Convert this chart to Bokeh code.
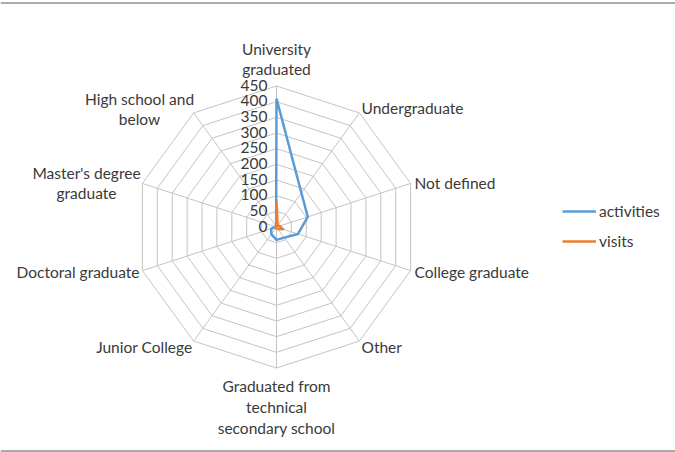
import math

from bokeh.core.properties import value
from bokeh.embed import file_html
from bokeh.models import ColumnDataSource, Legend, LegendItem, Range1d, Span
from bokeh.plotting import figure
from bokeh.resources import INLINE

# ---- data -----------------------------------------------------------------
categories = [
    "University graduated",
    "Undergraduate",
    "Not defined",
    "College graduate",
    "Other",
    "Graduated from technical secondary school",
    "Junior College",
    "Doctoral graduate",
    "Master's degree graduate",
    "High school and below",
]
activities = [410, 135, 105, 72, 42, 41, 28, 18, 3, 2]
visits = [82, 6, 10, 22, 8, 5, 3, 3, 2, 2]
ticks = [0, 50, 100, 150, 200, 250, 300, 350, 400, 450]
tick_labels = [str(t) for t in ticks]
series_names = ["activities", "visits"]

# ---- layout & style -------------------------------------------------------
W, H = 675, 452
CX, CY = 276.0, 226.5          # radar centre in page pixels
R_PX = 141.0                   # pixel radius of the outer ring
R_MAX = 450.0
PPU = R_PX / R_MAX             # pixels per value unit

BLUE = "#5b9bd5"
ORANGE = "#ed7d31"
GRID = "#c4c4c4"
TEXT = "#3a3a3a"
FONT = "Lato"
FONT_SIZE = "15.5px"

# label lines: (text, page x, page y, align)
label_lines = [
    [("University", 276, 48, "center"), ("graduated", 276, 68, "center")],
    [("Undergraduate", 361, 107, "left")],
    [("Not defined", 414, 182, "left")],
    [("College graduate", 414, 271, "left")],
    [("Other", 361, 346, "left")],
    [("Graduated from", 276, 385, "center"), ("technical", 276, 406, "center"),
     ("secondary school", 276, 427, "center")],
    [("Junior College", 192, 346, "right")],
    [("Doctoral graduate", 139, 271, "right")],
    [("Master's degree", 86, 172, "center"), ("graduate", 86, 192, "center")],
    [("High school and", 139, 98, "center"), ("below", 139, 118, "center")],
]


def to_data(px, py):
    return (px - CX) / PPU, (CY - py) / PPU


def polar(vals):
    n = len(vals)
    xs, ys = [], []
    for i, v in enumerate(vals):
        a = 2 * math.pi * i / n
        xs.append(v * math.sin(a))
        ys.append(v * math.cos(a))
    return xs + xs[:1], ys + ys[:1]


x0, y_top = to_data(0, 0)
x1, y_bot = to_data(W, H)

p = figure(
    width=W, height=H,
    x_range=Range1d(x0, x1), y_range=Range1d(y_bot, y_top),
    x_axis_type=None, y_axis_type=None,
    output_backend="svg", toolbar_location=None,
    min_border=0, outline_line_color=None,
    background_fill_color="white", border_fill_color="white",
)

# rings
n = len(categories)
for t in ticks[1:]:
    gx, gy = polar([t] * n)
    p.line(gx, gy, line_color=GRID, line_width=1)

# spokes
for i in range(n):
    a = 2 * math.pi * i / n
    p.line([0, R_MAX * math.sin(a)], [0, R_MAX * math.cos(a)],
           line_color=GRID, line_width=1)

# series
ax, ay = polar(activities)
vx, vy = polar(visits)
r_act = p.line(ax, ay, line_color=BLUE, line_width=2.5, line_join="round")
r_vis = p.line(vx, vy, line_color=ORANGE, line_width=2.5, line_join="round")

# value tick labels along the top spoke
tx, _ = to_data(CX - 9, 0)
tick_src = ColumnDataSource(dict(
    x=[tx] * len(ticks), y=[t + 1.0 / PPU for t in ticks], text=tick_labels))
p.text("x", "y", text="text", source=tick_src, text_align="right",
       text_baseline="middle", text_color=TEXT,
       text_font=value(FONT), text_font_size=FONT_SIZE)

# category labels
for lines in label_lines:
    for txt, px, py, align in lines:
        dx, dy = to_data(px, py)
        p.text([dx], [dy], text=[txt], text_align=align,
               text_baseline="middle", text_color=TEXT,
               text_font=value(FONT), text_font_size=FONT_SIZE)

# legend
legend = Legend(
    items=[LegendItem(label=series_names[0], renderers=[r_act]),
           LegendItem(label=series_names[1], renderers=[r_vis])],
    location=(562, 201), orientation="vertical",
    glyph_width=34, glyph_height=20, label_height=20, spacing=10,
    label_standoff=3, padding=0, margin=0,
    border_line_alpha=0, background_fill_alpha=0,
    label_text_font=FONT, label_text_font_size=FONT_SIZE,
    label_text_color=TEXT,
)
p.add_layout(legend)

# page frame lines
_, top_line = to_data(0, 2.5)
_, bot_line = to_data(0, 450.5)
p.add_layout(Span(location=top_line, dimension="width",
                  line_color="#8f8f8f", line_width=1.5))
p.add_layout(Span(location=bot_line, dimension="width",
                  line_color="#8f8f8f", line_width=1.5))

open("out.html", "w").write(file_html(p, INLINE))
